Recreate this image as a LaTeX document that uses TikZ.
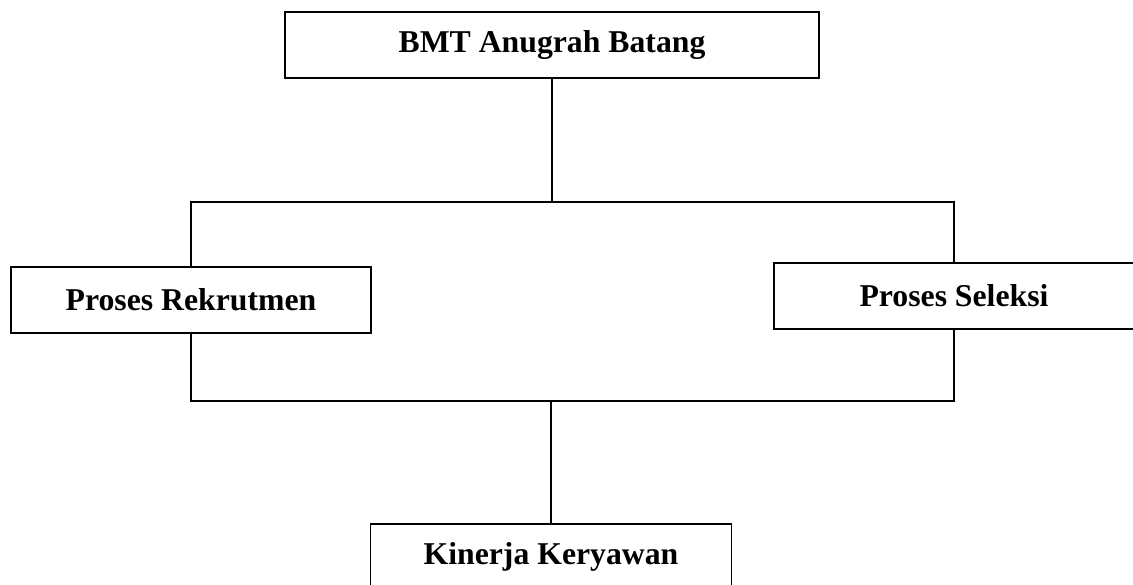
\documentclass[tikz,border=0pt]{standalone}
\usepackage{fontspec}
\setmainfont{Liberation Serif}
\begin{document}
\begin{tikzpicture}[x=0.75pt,y=-0.75pt,
  box/.style={draw, line width=0.9pt, rectangle, inner sep=0pt, minimum height=66*0.75pt, font=\fontsize{23.8pt}{28pt}\selectfont\bfseries},
  conn/.style={line width=1pt}]
\useasboundingbox (0,0) rectangle (1133,585);
\clip (0,0) rectangle (1133,585);
\node[box, minimum width=534*0.75pt] (top) at (552,45) {BMT Anugrah Batang};
\node[box, minimum width=360*0.75pt] (rek) at (191,300) {Proses Rekrutmen};
\node[box, minimum width=360*0.75pt] (sel) at (954,296) {Proses Seleksi};
\node[box, minimum width=361*0.75pt] (kin) at (551,557) {Kinerja Keryawan};
\coordinate (j1) at (552,202);
\coordinate (j2) at (551,401);
\draw[conn] (top.south) -- (j1);
\draw[conn] (rek.north) |- (j1) -| (sel.north);
\draw[conn] (rek.south) |- (j2) -| (sel.south);
\draw[conn] (j2) -- (kin.north);
\end{tikzpicture}
\end{document}
